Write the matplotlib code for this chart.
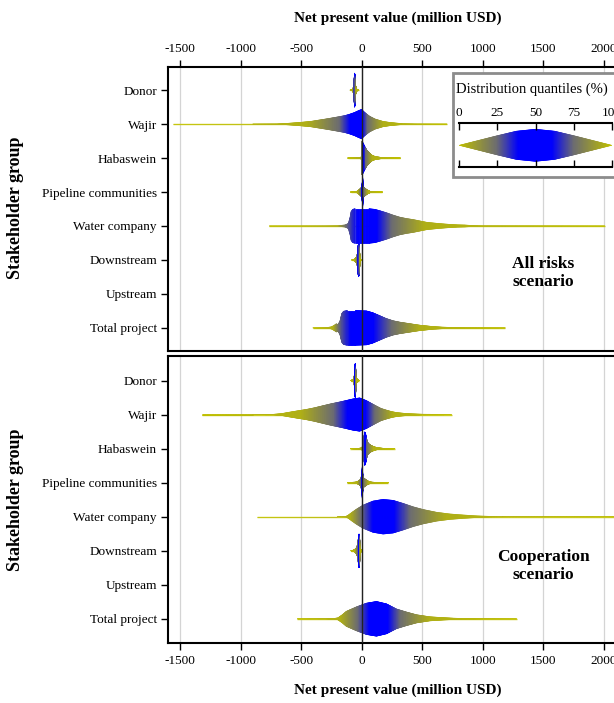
import numpy as np
import matplotlib
matplotlib.use("Agg")
import matplotlib.pyplot as plt
from matplotlib.collections import PolyCollection
from matplotlib.colors import LinearSegmentedColormap
from matplotlib.patches import Rectangle

plt.rcParams['font.family'] = ['Liberation Serif', 'DejaVu Serif']
plt.rcParams['axes.unicode_minus'] = False

groups = ["Donor", "Wajir", "Habaswein", "Pipeline communities",
          "Water company", "Downstream", "Upstream", "Total project"]
ticks = [-1500, -1000, -500, 0, 500, 1000, 1500, 2000]
quantile_levels = [0, 5, 25, 50, 75, 95, 100]

# All risks scenario: violin outline (NPV, half width) and quantile positions (NPV)
all_x = {
    "Donor": [-95, -80, -72, -67, -63, -60, -58, -56, -53, -49, -44, -36, -25],
    "Wajir": [-1560, -900, -700, -620, -510, -420, -350, -280, -200, -140, -100, -60, -30, -10, 0,
              20, 40, 66, 110, 175, 230, 287, 340, 450, 705],
    "Habaswein": [-116, -40, -10, -3, 0, 10, 25, 45, 66, 90, 122, 170, 230, 320],
    "Pipeline communities": [-91, -40, -20, 0, 5, 8, 11, 16, 30, 50, 70, 110, 171],
    "Water company": [-763, -300, -200, -140, -125, -110, -97, -88, -75, -55, 0, 60, 110, 150, 205,
                      260, 315, 370, 425, 480, 536, 590, 647, 720, 790, 850, 910, 1000, 2008],
    "Downstream": [-80, -65, -50, -40, -33, -29, -25, -21, -17, -12, -5],
    "Total project": [-403, -300, -250, -225, -210, -195, -180, -165, -150, -120, -50, 39, 90, 149,
                      200, 260, 315, 370, 425, 481, 536, 590, 660, 730, 850, 1186],
}
all_w = {
    "Donor": [0.003, 0.015, 0.04, 0.12, 0.3, 0.45, 0.5, 0.45, 0.3, 0.12, 0.04, 0.015, 0.003],
    "Wajir": [0.003, 0.003, 0.006, 0.02, 0.05, 0.08, 0.12, 0.16, 0.21, 0.25, 0.29, 0.34, 0.39, 0.42,
              0.43, 0.36, 0.3, 0.23, 0.15, 0.08, 0.05, 0.03, 0.012, 0.005, 0.003],
    "Habaswein": [0.003, 0.005, 0.012, 0.04, 0.49, 0.45, 0.34, 0.22, 0.14, 0.07, 0.035, 0.015, 0.006, 0.003],
    "Pipeline communities": [0.003, 0.02, 0.07, 0.14, 0.3, 0.47, 0.3, 0.15, 0.1, 0.05, 0.02, 0.006, 0.003],
    "Water company": [0.003, 0.004, 0.008, 0.03, 0.05, 0.08, 0.25, 0.42, 0.49, 0.51, 0.51, 0.51, 0.49,
                      0.45, 0.39, 0.32, 0.26, 0.22, 0.19, 0.15, 0.11, 0.09, 0.07, 0.05, 0.035, 0.03,
                      0.015, 0.006, 0.003],
    "Downstream": [0.003, 0.015, 0.05, 0.1, 0.25, 0.43, 0.49, 0.43, 0.25, 0.06, 0.003],
    "Total project": [0.003, 0.006, 0.03, 0.08, 0.12, 0.1, 0.2, 0.42, 0.49, 0.51, 0.51, 0.5, 0.45, 0.36,
                      0.28, 0.21, 0.17, 0.14, 0.11, 0.08, 0.06, 0.04, 0.025, 0.015, 0.006, 0.003],
}
all_q = {
    "Donor": [-95, -72, -63, -58, -53, -44, -25],
    "Wajir": [-1560, -450, -182, -22, 50, 180, 705],
    "Habaswein": [-116, -5, 5, 15, 35, 90, 320],
    "Pipeline communities": [-91, -25, -2, 8, 20, 55, 171],
    "Water company": [-763, -200, -125, 30, 250, 520, 2008],
    "Downstream": [-80, -50, -32, -25, -19, -12, -5],
    "Total project": [-403, -230, -185, -20, 250, 480, 1186],
}

# Cooperation scenario
coop_x = {
    "Donor": [-90, -75, -67, -62, -58, -55, -53, -51, -48, -44, -39, -31, -20],
    "Wajir": [-1316, -900, -735, -660, -597, -530, -459, -390, -321, -250, -182, -120, -72, -17, 39,
              80, 122, 160, 205, 245, 287, 370, 508, 743],
    "Habaswein": [-94, -30, 0, 10, 18, 25, 32, 40, 50, 65, 85, 110, 140, 180, 274],
    "Pipeline communities": [-119, -50, -25, -8, 0, 5, 10, 18, 30, 50, 80, 130, 221],
    "Water company": [-868, -200, -130, -110, -80, -44, 11, 94, 177, 260, 343, 426, 509, 619, 730,
                      840, 950, 1061, 1200, 2300],
    "Downstream": [-88, -70, -52, -40, -31, -26, -22, -18, -14, -9, -2],
    "Total project": [-532, -300, -230, -196, -160, -127, -44, 39, 122, 205, 287, 370, 453, 564, 674,
                      757, 840, 1000, 1280],
}
coop_w = {
    "Donor": [0.003, 0.015, 0.04, 0.12, 0.3, 0.45, 0.5, 0.45, 0.3, 0.12, 0.04, 0.015, 0.003],
    "Wajir": [0.003, 0.003, 0.006, 0.03, 0.07, 0.11, 0.15, 0.2, 0.26, 0.32, 0.37, 0.42, 0.46, 0.49,
              0.41, 0.33, 0.25, 0.18, 0.13, 0.09, 0.06, 0.03, 0.01, 0.003],
    "Habaswein": [0.003, 0.005, 0.02, 0.1, 0.35, 0.49, 0.45, 0.3, 0.18, 0.12, 0.08, 0.045, 0.02, 0.008, 0.003],
    "Pipeline communities": [0.003, 0.015, 0.05, 0.1, 0.25, 0.48, 0.25, 0.13, 0.1, 0.05, 0.015, 0.005, 0.003],
    "Water company": [0.003, 0.003, 0.01, 0.05, 0.13, 0.22, 0.34, 0.46, 0.51, 0.48, 0.39, 0.29, 0.21,
                      0.13, 0.08, 0.05, 0.025, 0.01, 0.004, 0.003],
    "Downstream": [0.003, 0.015, 0.05, 0.1, 0.25, 0.43, 0.49, 0.43, 0.25, 0.06, 0.003],
    "Total project": [0.003, 0.005, 0.01, 0.03, 0.12, 0.22, 0.35, 0.46, 0.51, 0.44, 0.29, 0.2, 0.12,
                      0.06, 0.035, 0.02, 0.01, 0.005, 0.003],
}
coop_q = {
    "Donor": [-90, -67, -58, -53, -48, -39, -20],
    "Wajir": [-1316, -500, -230, -25, 110, 260, 743],
    "Habaswein": [-94, 0, 18, 30, 45, 100, 274],
    "Pipeline communities": [-119, -30, -3, 5, 15, 60, 221],
    "Water company": [-868, -90, 0, 170, 400, 700, 2300],
    "Downstream": [-88, -50, -29, -22, -16, -9, -2],
    "Total project": [-532, -170, -30, 140, 320, 560, 1280],
}

# legend lens: quantile (%) vs half width
legend_p = [0, 12.5, 25, 37.5, 50, 62.5, 75, 87.5, 100]
legend_w = [0, 0.3, 0.6, 0.88, 1.0, 0.88, 0.6, 0.3, 0]

yellow = (0.75, 0.75, 0.0)
blue = (0.0, 0.0, 1.0)
mix = (0.42, 0.42, 0.45)
qcmap = LinearSegmentedColormap.from_list(
    "quant", [(0, yellow), (0.25, mix), (0.39, blue), (0.61, blue), (0.75, mix), (1, yellow)])
tail_color = "#cccc20"


def draw_violin(ax, y, xs, ws, qs):
    ax.plot([qs[0], qs[-1]], [y, y], color=tail_color, lw=1, zorder=2, solid_capstyle="butt")
    grid = np.linspace(xs[0], xs[-1], 900)
    half = np.interp(grid, xs, ws)
    mid = 0.5 * (grid[:-1] + grid[1:])
    cols = qcmap(np.interp(mid, qs, quantile_levels) / 100)
    verts = [[(grid[i], y - half[i]), (grid[i], y + half[i]),
              (grid[i + 1], y + half[i + 1]), (grid[i + 1], y - half[i + 1])]
             for i in range(len(mid))]
    ax.add_collection(PolyCollection(verts, facecolors=cols, edgecolors=cols,
                                     linewidths=0.4, zorder=3))


fig = plt.figure(figsize=(6.14, 7.03), dpi=100)
W, H = 614, 703

ax1 = fig.add_axes([168 / W, 1 - 351 / H, 460 / W, 284 / H])
ax2 = fig.add_axes([168 / W, 1 - 643 / H, 460 / W, 287 / H])

panels = [(ax1, all_x, all_w, all_q, (7.68, -0.68), "All risks\nscenario", 273),
          (ax2, coop_x, coop_w, coop_q, (7.71, -0.72), "Cooperation\nscenario", 566)]

for ax, px, pw, pq, ylim, label, label_y in panels:
    for i, g in enumerate(groups):
        if g in px:
            draw_violin(ax, i, px[g], pw[g], pq[g])
    ax.set_xlim(-1600, 2200)
    ax.set_ylim(*ylim)
    ax.set_xticks(ticks)
    ax.set_yticks(range(len(groups)))
    ax.set_yticklabels(groups, fontsize=9.5)
    for t in ticks:
        ax.axvline(t, color="#d4d4d4", lw=0.9, zorder=1)
    ax.axvline(0, color="#222222", lw=1.0, zorder=4)
    for s in ax.spines.values():
        s.set_linewidth(1.5)
    ax.tick_params(axis="y", direction="out", length=5, width=1, pad=3)
    ax.tick_params(axis="x", direction="out", length=5, width=1, labelsize=9.5, pad=4)
    fig.text(543 / W, 1 - label_y / H, label, ha="center", va="center",
             fontsize=12.5, fontweight="bold", linespacing=1.15)

ax1.xaxis.tick_top()
ax1.tick_params(axis="x", bottom=False, top=True)
ax2.tick_params(axis="x", top=False, bottom=True)

fig.text(398 / W, 1 - 18 / H, "Net present value (million USD)", ha="center", va="center",
         fontsize=11, fontweight="bold")
fig.text(398 / W, 1 - 690 / H, "Net present value (million USD)", ha="center", va="center",
         fontsize=11, fontweight="bold")
fig.text(16 / W, 1 - 208 / H, "Stakeholder group", ha="center", va="center",
         rotation=90, fontsize=13, fontweight="bold")
fig.text(16 / W, 1 - 500 / H, "Stakeholder group", ha="center", va="center",
         rotation=90, fontsize=13, fontweight="bold")

# legend box with inset quantile lens
box = Rectangle((452.7 / W, 1 - 177.3 / H), 0.4, 104.6 / H, transform=fig.transFigure,
                facecolor="white", edgecolor="#8c8c8c", lw=2, zorder=5)
fig.add_artist(box)
fig.text(456 / W, 1 - 89 / H, "Distribution quantiles (%)", ha="left", va="center",
         fontsize=10.5, zorder=6)

axl = fig.add_axes([459.3 / W, 1 - 167.3 / H, 152.4 / W, 44 / H], zorder=7)
axl.patch.set_alpha(0)
lg = np.linspace(0, 100, 400)
lh = np.interp(lg, legend_p, legend_w)
lm = 0.5 * (lg[:-1] + lg[1:])
lcols = qcmap(lm / 100)
lverts = [[(lg[i], -lh[i]), (lg[i], lh[i]), (lg[i + 1], lh[i + 1]), (lg[i + 1], -lh[i + 1])]
          for i in range(len(lm))]
axl.add_collection(PolyCollection(lverts, facecolors=lcols, edgecolors=lcols, linewidths=0.4))
axl.set_xlim(0, 100)
axl.set_ylim(-1.37, 1.37)
axl.set_xticks([0, 25, 50, 75, 100])
axl.set_yticks([])
axl.xaxis.tick_top()
axl.tick_params(axis="x", direction="in", length=5, width=1, top=True, bottom=True,
                labeltop=True, labelbottom=False, labelsize=9.5, pad=3)
axl.spines["left"].set_visible(False)
axl.spines["right"].set_visible(False)
for s in ("top", "bottom"):
    axl.spines[s].set_linewidth(1.5)

fig.savefig("out.png", dpi=100)
